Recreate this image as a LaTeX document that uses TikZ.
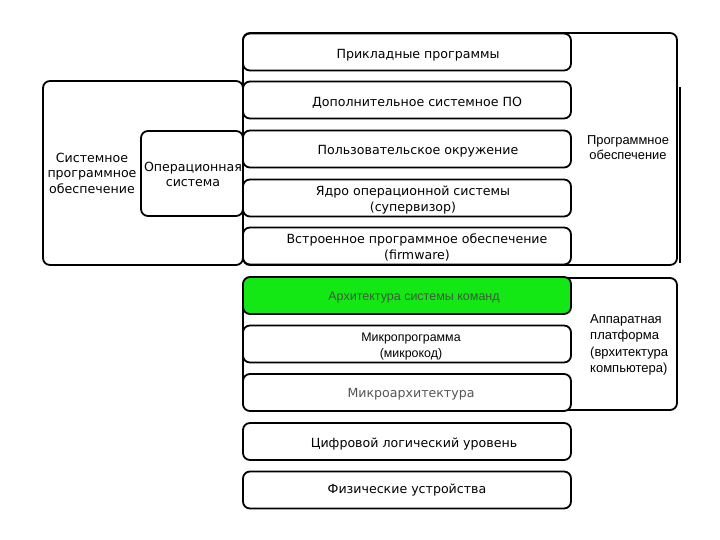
\documentclass[tikz,border=0pt]{standalone}
\usepackage{fontspec}
\setmainfont{DejaVu Sans}
\newfontfamily\narrowfont{Liberation Sans}
\definecolor{brightgreen}{RGB}{20,232,20}
\definecolor{greentext}{RGB}{60,90,60}
\definecolor{graytext}{RGB}{85,85,85}
\begin{document}
\begin{tikzpicture}[x=1pt,y={(0pt,-1pt)},
  grp/.style={draw, line width=1.8pt, rounded corners=7pt, inner sep=0pt},
  layer/.style={draw, line width=1.8pt, rounded corners=7pt, fill=white,
    minimum width=328pt, minimum height=37pt, inner sep=0pt},
  txt/.style={align=center, inner sep=0pt, font=\fontsize{12.6}{16}\selectfont},
  ntxt/.style={align=center, inner sep=0pt, font=\narrowfont\fontsize{12.5}{16}\selectfont},
  lbl/.style={align=center, inner sep=0pt, font=\fontsize{12.6}{15.5}\selectfont},
  nlbl/.style={align=center, inner sep=0pt, font=\narrowfont\fontsize{12.9}{15}\selectfont}]
\useasboundingbox (0,0) rectangle (720,540);
% group frames
\node[grp, minimum width=434pt, minimum height=232pt] (sw) at (460,149) {};
\node[grp, minimum width=200pt, minimum height=184pt] (sys) at (143,173) {};
\node[grp, minimum width=102pt, minimum height=85pt] (os) at (192,173.5) {};
\node[grp, minimum width=434pt, minimum height=132pt] (hw) at (460,344) {};
\draw[line width=1.6pt] (680,87) coordinate (edgeA) -- (680,263) coordinate (edgeB);
% labels of groups
\node[lbl] (syslbl) at (92,173) {Системное\\программное\\обеспечение};
\node[lbl] (oslbl) at (193,174.5) {Операционная\\система};
\node[nlbl] (swlbl) at (628,148) {Программное\\обеспечение};
\node[nlbl, align=left, anchor=west, font=\narrowfont\fontsize{13}{16.5}\selectfont] (hwlbl) at (590,345) {Аппаратная\\платформа\\(врхитектура\\компьютера)};
% layer boxes
\node[layer] (l1) at (407,52) {};
\node[layer] (l2) at (407,100) {};
\node[layer] (l3) at (407,149) {};
\node[layer] (l4) at (407,198) {};
\node[layer] (l5) at (407,246) {};
\node[layer, fill=brightgreen] (l6) at (407,295.5) {};
\node[layer] (l7) at (407,344) {};
\node[layer] (l8) at (407,392.5) {};
\node[layer] (l9) at (407,441.5) {};
\node[layer] (l10) at (407,490) {};
% layer texts
\node[txt] (t1) at (418,55) {Прикладные программы};
\node[txt] (t2) at (417,103) {Дополнительное системное ПО};
\node[txt] (t3) at (418,151) {Пользовательское окружение};
\node[txt] (t4) at (413,200.5) {Ядро операционной системы\\(супервизор)};
\node[txt] (t5) at (417,247.5) {Встроенное программное обеспечение\\(firmware)};
\node[ntxt, text=greentext] (t6) at (414,297.5) {Архитектура системы команд};
\node[ntxt, font=\narrowfont\fontsize{12.4}{15.5}\selectfont] (t7) at (411,346.5) {Микропрограмма\\(микрокод)};
\node[txt, text=graytext] (t8) at (411,394) {Микроархитектура};
\node[txt] (t9) at (414,444) {Цифровой логический уровень};
\node[txt] (t10) at (407,490) {Физические устройства};
\end{tikzpicture}
\end{document}
